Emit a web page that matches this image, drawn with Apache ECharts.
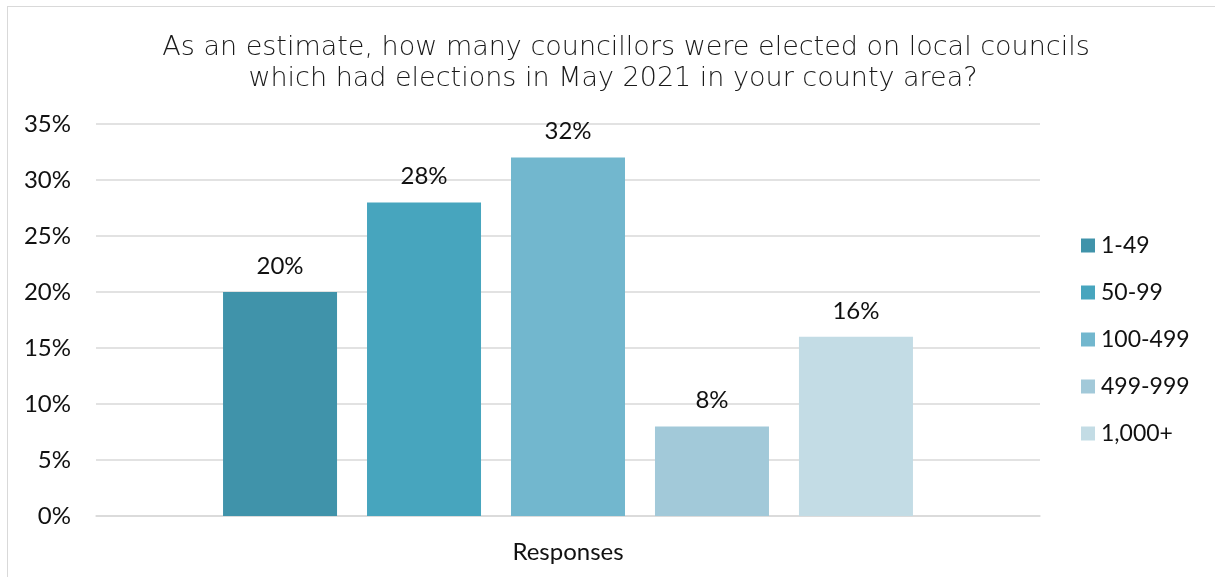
<!DOCTYPE html>
<html><head><meta charset="utf-8">
<script src="https://cdn.jsdelivr.net/npm/echarts@6/dist/echarts.min.js"></script>
<style>html,body{margin:0;padding:0;background:#fff}#c{width:1215px;height:577px;}
#frame{position:absolute;left:7px;top:6px;width:1220px;height:600px;border:1.5px solid #d9d9d9;pointer-events:none;}</style>
</head><body>
<div id="c"></div><div id="frame"></div>
<script>
const titleLines = ['As an estimate, how many councillors were elected on local councils', 'which had elections in May 2021 in your county area?'];
const categories = ['Responses'];
const seriesNames = ['1-49', '50-99', '100-499', '499-999', '1,000+'];
const seriesValues = [20, 28, 32, 8, 16];
const seriesColors = ['#4093AA', '#47A5BE', '#72B7CE', '#A2C9D9', '#C3DCE5'];
const yTicks = [0, 5, 10, 15, 20, 25, 30, 35];

const chart = echarts.init(document.getElementById('c'));
const labelFont = 'Lato, "Noto Sans", sans-serif';
const titleStyle = {fontFamily: '"DejaVu Sans", sans-serif', fontWeight: 200, fontSize: 27, color: '#1a1a1a'};
chart.setOption({
  animation: false,
  title: [
    {text: titleLines[0], left: 621, top: 29, textAlign: 'center', textStyle: titleStyle},
    {text: titleLines[1], left: 608, top: 60, textAlign: 'center', textStyle: titleStyle}
  ],
  legend: {
    orient: 'vertical', left: 1076, top: 229, itemWidth: 14, itemHeight: 14, itemGap: 24,
    icon: 'rect', textStyle: {fontFamily: labelFont, fontSize: 23, color: '#111', padding: [0,0,0,1]},
    data: seriesNames
  },
  grid: {left: 96, right: 175, top: 124, bottom: 61},
  xAxis: {
    type: 'category', data: categories,
    name: 'Responses', nameLocation: 'middle', nameGap: 24,
    nameTextStyle: {fontFamily: labelFont, fontSize: 24, color: '#111'},
    axisLabel: {show: false}, axisTick: {show: false},
    axisLine: {lineStyle: {color: '#d9d9d9', width: 1.5}}
  },
  yAxis: {
    type: 'value', min: yTicks[0], max: yTicks[yTicks.length-1], interval: 5,
    axisLabel: {formatter: '{value}%', fontFamily: labelFont, fontSize: 24, color: '#111', margin: 25},
    splitLine: {lineStyle: {color: '#d9d9d9', width: 1.5}},
    axisLine: {show: false}, axisTick: {show: false}
  },
  series: seriesNames.map((n, i) => ({
    name: n, type: 'bar', data: [seriesValues[i]],
    barWidth: 114, barGap: '26.3%', barCategoryGap: '26.9%',
    itemStyle: {color: seriesColors[i]},
    label: {show: true, position: 'top', distance: 14, formatter: '{c}%', fontFamily: labelFont, fontSize: 24, color: '#111'}
  }))
});
</script>
</body></html>
